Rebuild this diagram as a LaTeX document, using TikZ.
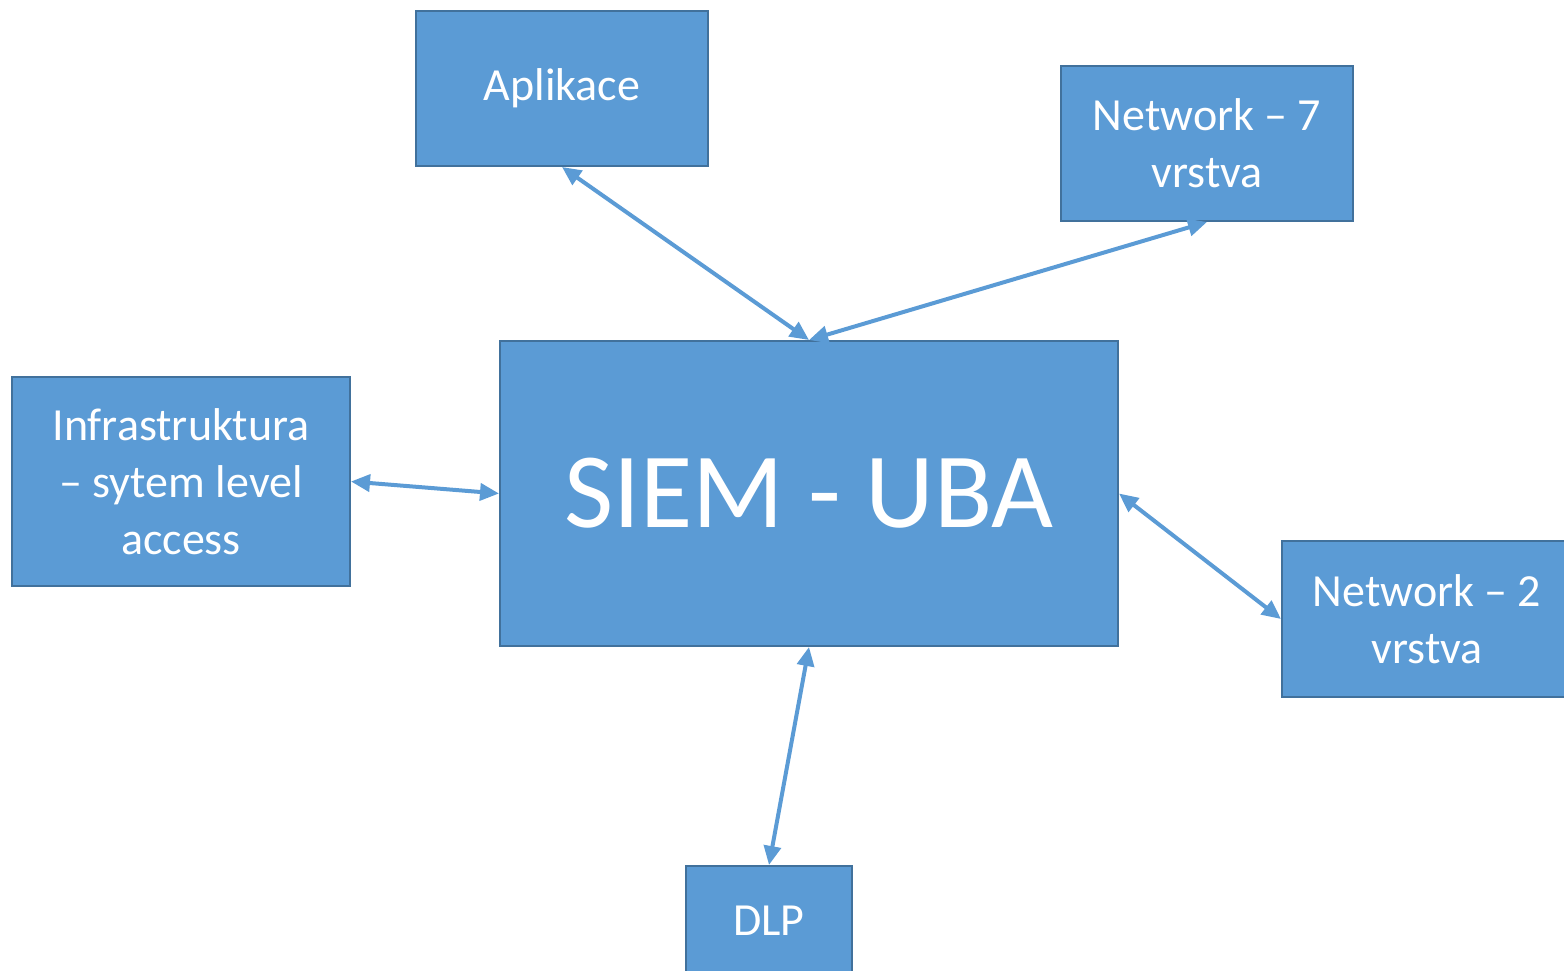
\documentclass[tikz,border=0pt]{standalone}
\usepackage{fontspec}
\setmainfont{Carlito}
\usetikzlibrary{arrows.meta,positioning}
\definecolor{boxfill}{HTML}{5B9BD5}
\definecolor{boxline}{HTML}{41719C}

\begin{document}
\begin{tikzpicture}[x=1pt,y=-1pt,
   block/.style={draw=boxline,line width=2pt,fill=boxfill,text=white,align=center,inner sep=0pt,font=\fontsize{46}{57}\selectfont},
   link/.style={color=boxfill,line width=4pt,<->},
   >={Triangle[length=19pt,width=17pt]}]
   \useasboundingbox (0,0) rectangle (1564,971);
   \node[block,minimum width=618pt,minimum height=305pt,font=\fontsize{107}{120}\selectfont] (siem) at (809,493.5) {SIEM - UBA};
   \node[block,minimum width=292pt,minimum height=155pt] (apl) at (562,88.5) {Aplikace};
   \node[block,minimum width=292pt,minimum height=155pt] (net7) at (1207,143.5) {Network -- 7\\vrstva};
   \node[block,minimum width=338pt,minimum height=209pt] (infra) at (181,481.5) {Infrastruktura\\-- sytem level\\access};
   \node[block,minimum width=290pt,minimum height=156pt] (net2) at (1427,619) {Network -- 2\\vrstva};
   \node[block,minimum width=166pt,minimum height=110pt] (dlp) at (769,921) {DLP};
    \path
    (apl.south) edge[link] (siem.north)
    (net7.south) edge[link] (siem.north)
    (infra.east) edge[link] (siem.west)
    (siem.east) edge[link] (net2.west)
    (siem.south) edge[link] (dlp.north);
\end{tikzpicture}
\end{document}
